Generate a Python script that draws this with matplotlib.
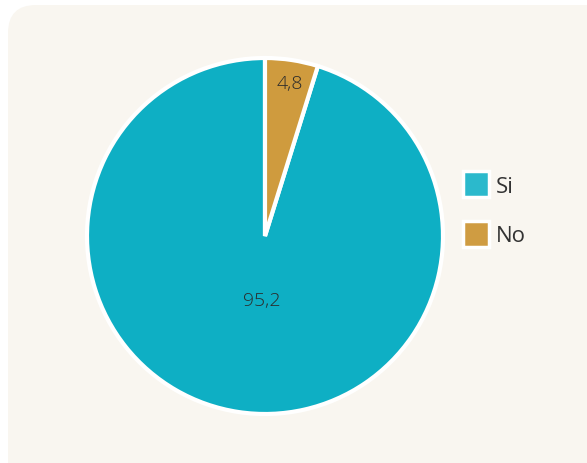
import matplotlib

matplotlib.use("Agg")
import matplotlib.pyplot as plt
from matplotlib.patches import FancyBboxPatch, Patch

categories = ["Si", "No"]
values = [95.2, 4.8]
value_labels = ["95,2", "4,8"]

PIE_COLORS = ["#0eafc4", "#cf9b3e"]
LEGEND_COLORS = ["#2bb9cc", "#cf9c42"]
BG = "#f9f6f0"
W, H = 587, 464

plt.rcParams["font.family"] = ["Open Sans", "DejaVu Sans"]

fig = plt.figure(figsize=(W / 100, H / 100), dpi=100)
fig.patch.set_facecolor("white")

# rounded card behind the chart, running off the right and bottom edges
bg_ax = fig.add_axes([0, 0, 1, 1], zorder=-5)
bg_ax.set_xlim(0, W)
bg_ax.set_ylim(H, 0)
bg_ax.axis("off")
bg_ax.add_patch(FancyBboxPatch(
    (8, 6), W + 60, H + 60,
    boxstyle="round,pad=0,rounding_size=28",
    facecolor=BG, edgecolor="none",
))

cx, cy, r = 265 / W, 1 - 237 / H, 178
ax = fig.add_axes([cx - r / W, cy - r / H, 2 * r / W, 2 * r / H])
wedges, _ = ax.pie(
    values, colors=PIE_COLORS, startangle=90, counterclock=True,
    wedgeprops=dict(edgecolor="white", linewidth=3),
)
ax.set_xlim(-1.0, 1.0)
ax.set_ylim(-1.0, 1.0)
ax.set_aspect("equal")

# value labels, placed where the source put them
ax.text(-0.02, -0.36, value_labels[0], ha="center", va="center",
        fontsize=14, color="#2b2b2b", fontweight="light")
ax.text(0.14, 0.86, value_labels[1], ha="center", va="center",
        fontsize=14, color="#2b2b2b", fontweight="light")

handles = [Patch(facecolor=c, edgecolor="white", linewidth=2.5) for c in LEGEND_COLORS]
fig.legend(
    handles, categories, loc="center left", bbox_to_anchor=(443 / W, 1 - 210 / H),
    frameon=False, fontsize=16, handlelength=1.17, handleheight=1.42,
    labelspacing=1.05, handletextpad=0.3, labelcolor="#333333",
)

fig.savefig("out.png", dpi=100, facecolor=fig.get_facecolor())
